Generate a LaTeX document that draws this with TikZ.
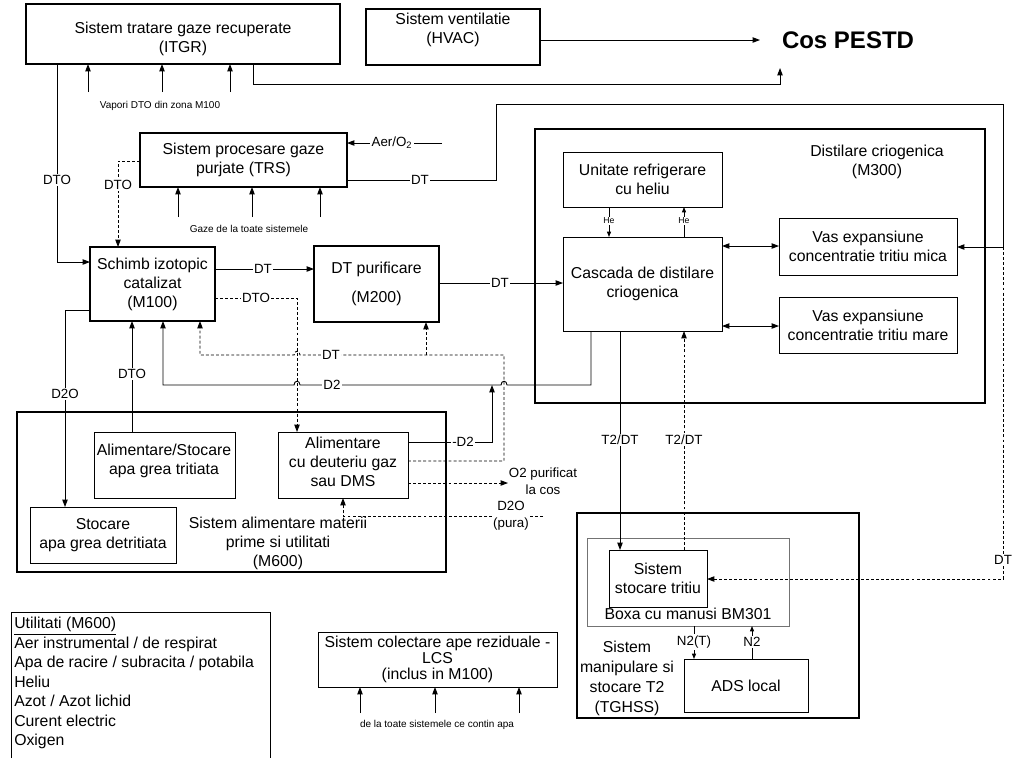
\documentclass[tikz,border=0pt]{standalone}
\usepackage{fontspec}
\setmainfont{Liberation Sans}
\usetikzlibrary{arrows.meta}
\newcommand{\fbig}{\fontsize{11.85}{14.2}\selectfont}
\newcommand{\flab}{\fontsize{10}{12.5}\selectfont}
\newcommand{\fsml}{\fontsize{7.5}{9}\selectfont}
\newcommand{\fhe}{\fontsize{6.5}{8}\selectfont}
\newcommand{\bx}[7]{\node[#6, minimum width={(#4-#2)*0.75pt}, minimum height={(#5-#3)*0.75pt}] (#1) at ({(#2+#4)/2},{(#3+#5)/2}) {#7};}
\begin{document}
\begin{tikzpicture}[x=0.75pt,y=-0.75pt,
  box/.style={draw, line width=0.75pt, inner sep=0pt, outer sep=0pt, align=center, font=\fbig},
  tbox/.style={box, line width=1.6pt},
  txt/.style={align=center, font=\fbig, inner sep=0pt},
  ln/.style={line width=0.7pt, draw=black},
  dsh/.style={ln, dash pattern=on 2.2pt off 1.6pt},
  arr/.style={-{Triangle[length=5.5pt,width=4pt]}},
  sarr/.style={-{Triangle[length=4pt,width=3pt]}},
  darr/.style={{Triangle[length=5.5pt,width=4pt]}-{Triangle[length=5.5pt,width=4pt]}},
  lbl/.style={fill=white, inner sep=1pt, font=\flab, align=center},
  sml/.style={font=\fsml, inner sep=1pt},
  hel/.style={fill=white, inner sep=0.5pt, font=\fhe}]
\useasboundingbox (0,0) rectangle (1012,758);

% ---------- boxes ----------
\bx{itgr}{26}{4}{340}{64}{tbox}{}
\node[txt] (itgrt) at (183,39) {Sistem tratare gaze recuperate\\(ITGR)};
\bx{hvac}{366}{9}{540}{65}{tbox}{}
\node[txt] (hvact) at (453,30) {Sistem ventilatie\\(HVAC)};
\node[font=\bfseries\fontsize{18}{20}\selectfont, inner sep=0pt] (cos) at (848,40) {Cos PESTD};

\bx{trs}{140}{133}{347}{187}{tbox}{Sistem procesare gaze\\purjate (TRS)}
\bx{m100}{90}{247}{215}{321}{tbox}{Schimb izotopic\\catalizat\\(M100)}
\bx{dtp}{314}{246}{439}{322}{tbox}{DT purificare\\[8pt](M200)}

\bx{m300}{535}{129}{985}{403}{tbox}{}
\node[txt] (m300t) at (877,162) {Distilare criogenica\\(M300)};
\bx{unit}{563}{152}{722}{207}{box}{Unitate refrigerare\\cu heliu}
\bx{casc}{563}{237}{722}{331}{box}{Cascada de distilare\\criogenica}
\bx{vmica}{779}{218}{957}{275}{box}{Vas expansiune\\concentratie tritiu mica}
\bx{vmare}{779}{297}{957}{353}{box}{Vas expansiune\\concentratie tritiu mare}

\bx{m600}{17}{412}{446}{572}{tbox}{}
\node[txt] (m600t) at (278,543) {Sistem alimentare materii\\prime si utilitati\\(M600)};
\bx{alst}{94}{432}{235}{498}{box}{}
\node[txt] (alstt) at (164,461) {Alimentare/Stocare\\apa grea tritiata};
\bx{alim}{278}{432}{408}{498}{box}{}
\node[txt] (alimt) at (343,462) {Alimentare\\cu deuteriu gaz\\sau DMS};
\bx{stdet}{30}{507}{176}{563}{box}{Stocare\\apa grea detritiata}

\bx{tghss}{577}{513}{859}{718}{tbox}{}
\node[txt, font=\fontsize{11.85}{15}\selectfont] (tghsst) at (627,678) {Sistem\\manipulare si\\stocare T2\\(TGHSS)};
\bx{boxa}{587}{538}{789}{626}{box, draw=black!55}{}
\node[txt] (boxat) at (688,614) {Boxa cu manusi BM301};
\bx{stoc}{609}{550}{707}{607}{box}{Sistem\\stocare tritiu}
\bx{ads}{684}{659}{808}{712}{box}{ADS local}

\bx{lcs}{318}{632}{557}{687}{box, font=\fontsize{11.85}{12.2}\selectfont}{Sistem colectare ape reziduale -\\LCS\\(inclus in M100)}

\draw[line width=0.75pt] (11,758) -- (11,612) -- (270,612) -- (270,758);
\node[anchor=north west, align=left, inner sep=0pt, font=\fontsize{11.85}{14.6}\selectfont] (util) at (14,617)
  {\underline{Utilitati (M600)}\\Aer instrumental / de respirat\\Apa de racire / subracita / potabila\\Heliu\\Azot / Azot lichid\\Curent electric\\Oxigen};

% ---------- top connectors ----------
\coordinate (cosin) at (780,68);
\draw[ln,arr] (253,0 |- itgr.south) -- (253,84) -- (780,84) -- (cosin);
\draw[ln,arr] (hvac.east |- 0,40) -- (760,40);
\foreach \x/\n in {88/a,162/b,230/c} { \coordinate (vp\n) at (\x,92); \draw[ln,arr] (vp\n) -- (\x,0 |- itgr.south); }
\node[sml] (vap) at (160,106) {Vapori DTO din zona M100};

\draw[ln,arr] (57,0 |- itgr.south) -- (57,262) -- (m100.west |- 0,262);
\node[lbl] (ldto1) at (57,180) {DTO};

% TRS
\coordinate (aer) at (442,143);
\draw[ln,arr] (aer) -- (trs.east |- 0,143);
\node[lbl] (laer) at (392,143) {Aer/O\textsubscript{2}};
\foreach \x/\n in {178/a,252/b,320/c} { \coordinate (gz\n) at (\x,217); \draw[ln,arr] (gz\n) -- (\x,0 |- trs.south); }
\node[sml] (gaze) at (249,229) {Gaze de la toate sistemele};

\coordinate (j1) at (1003,247);
\draw[ln,arr] (trs.east |- 0,180) -- (496,180) -- (496,104) -- (1003,104) -- (j1) -- (vmica.east |- j1);
\node[lbl] (ldt1) at (420,180) {DT};
\draw[dsh,arr] (j1) -- (1003,579) -- (stoc.east |- 0,579);
\node[lbl] (ldt2) at (1003,560) {DT};

\draw[dsh,arr] (trs.west |- 0,161) -- (118,161) -- (118,0 |- m100.north);
\node[lbl] (ldto2) at (118,185) {DTO};

% M100 / M200
\draw[ln,arr] (m100.east |- 0,269) -- (dtp.west |- 0,269);
\node[lbl] (ldt3) at (263,269) {DT};
\draw[dsh,arr] (m100.east |- 0,298) -- (297,298) -- (297,0 |- alim.north);
\node[lbl] (ldto3) at (256,298) {DTO};
\draw[ln,arr] (m100.west |- 0,310) -- (65,310) -- (65,0 |- stdet.north);
\node[lbl] (ld2o) at (65,394) {D2O};
\draw[ln,arr] (132,0 |- alst.north) -- (132,0 |- m100.south);
\node[lbl] (ldto4) at (132,374) {DTO};

\draw[ln,arr] (591,0 |- casc.south) -- (591,385) -- (507,385) .. controls (507,380) and (501,380) .. (501,385)
  -- (300,385) .. controls (300,380) and (294,380) .. (294,385) -- (163,385) -- (163,0 |- m100.south);
\node[lbl] (ld2) at (332,385) {D2};

\draw[dsh,arr] (alim.east |- 0,461) -- (504,461) -- (504,355) -- (300,355) .. controls (300,350) and (294,350) .. (294,355)
  -- (200,355) -- (200,0 |- m100.south);
\draw[dsh,arr] (426,355) -- (426,0 |- dtp.south);
\node[lbl] (ldt4) at (331,355) {DT};

\draw[ln,arr] (alim.east |- 0,442) -- (492,442) -- (492,385);
\node[lbl] (ld2b) at (463,442) {-D2};

\draw[dsh,arr] (alim.east |- 0,483) -- (508,483);
\node[font=\flab, align=center, inner sep=0pt] (o2) at (543,481) {O2 purificat\\la cos};
\coordinate (d2oin) at (543,516);
\draw[dsh,arr] (d2oin) -- (343,516) -- (343,0 |- alim.south);
\node[lbl, font=\fontsize{10}{12.5}\selectfont] (ld2op) at (511,516) {D2O\\(pura)};

% M300
\draw[ln,arr] (dtp.east |- 0,283) -- (casc.west |- 0,283);
\node[lbl] (ldt5) at (500,283) {DT};
\draw[ln,sarr] (609,0 |- unit.south) -- (609,0 |- casc.north);
\node[hel] (lhe1) at (609,221) {He};
\draw[ln,sarr] (684,0 |- casc.north) -- (684,0 |- unit.south);
\node[hel] (lhe2) at (684,221) {He};
\draw[ln,darr] (casc.east |- 0,246) -- (vmica.west |- 0,246);
\draw[ln,darr] (casc.east |- 0,326) -- (vmare.west |- 0,326);

\draw[ln,arr] (620,0 |- casc.south) -- (620,0 |- stoc.north);
\node[lbl] (lt2a) at (620,440) {T2/DT};
\draw[dsh,arr] (684,0 |- stoc.north) -- (684,0 |- casc.south);
\node[lbl] (lt2b) at (684,440) {T2/DT};

% TGHSS
\draw[ln,sarr] (694,0 |- boxa.south) -- (694,0 |- ads.north);
\node[lbl] (ln2t) at (694,642) {N2(T)};
\draw[ln,sarr] (752,0 |- ads.north) -- (752,0 |- boxa.south);
\node[lbl] (ln2) at (752,642) {N2};

% LCS
\foreach \x/\n in {360/a,435/b,519/c} { \coordinate (lc\n) at (\x,713); \draw[ln,arr] (lc\n) -- (\x,0 |- lcs.south); }
\node[sml] (lcsl) at (437,725) {de la toate sistemele ce contin apa};
\end{tikzpicture}
\end{document}
